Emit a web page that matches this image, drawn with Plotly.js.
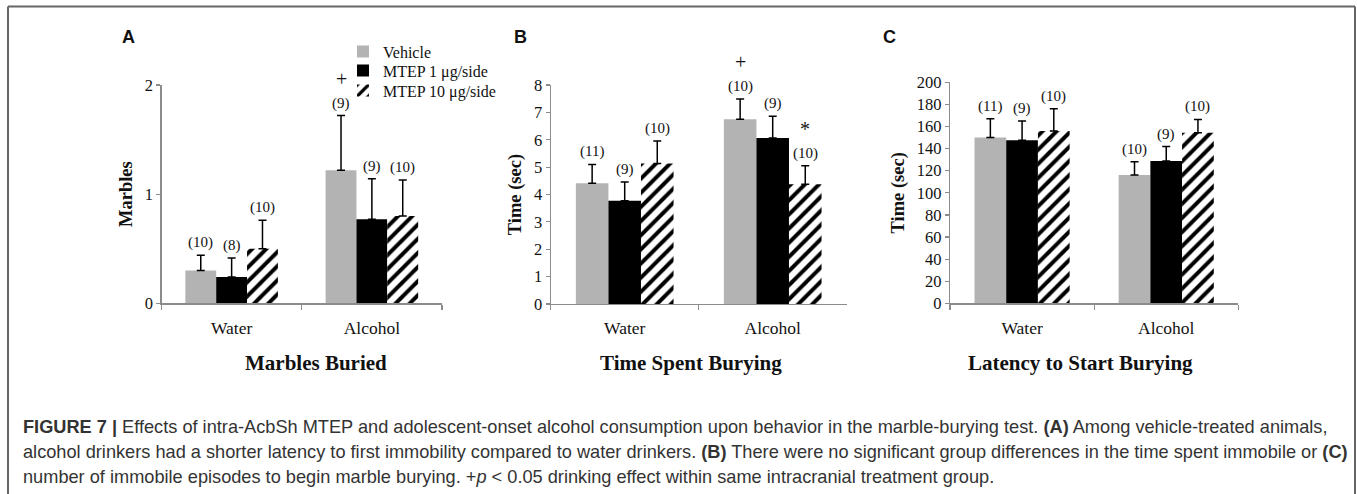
<!DOCTYPE html>
<html>
<head>
<meta charset="utf-8">
<script src="https://cdn.plot.ly/plotly-3.0.1.min.js"></script>
<style>html,body{margin:0;padding:0;background:#fff;} #chart{width:1357px;height:494px;}</style>
</head>
<body>
<div id="chart"></div>
<script>
// ---------- DATA ----------
const categories = ['Water', 'Alcohol'];
const seriesNames = ['Vehicle', 'MTEP 1 μg/side', 'MTEP 10 μg/side'];

// Panel A: Marbles Buried (marbles)
const marblesVehicle = [0.30, 1.22];
const marblesVehicleSem = [0.14, 0.50];
const marblesMtep1 = [0.24, 0.77];
const marblesMtep1Sem = [0.175, 0.37];
const marblesMtep10 = [0.50, 0.80];
const marblesMtep10Sem = [0.26, 0.33];
const marblesN = [[10, 9], [8, 9], [10, 10]];
const marblesSig = [['', '+'], ['', ''], ['', '']];

// Panel B: Time Spent Burying (sec)
const timeVehicle = [4.41, 6.75];
const timeVehicleSem = [0.69, 0.74];
const timeMtep1 = [3.77, 6.06];
const timeMtep1Sem = [0.69, 0.80];
const timeMtep10 = [5.13, 4.37];
const timeMtep10Sem = [0.82, 0.68];
const timeN = [[11, 10], [9, 9], [10, 10]];
const timeSig = [['', '+'], ['', ''], ['', '*']];

// Panel C: Latency to Start Burying (sec)
const latencyVehicle = [150, 116];
const latencyVehicleSem = [17, 12];
const latencyMtep1 = [147.5, 128.8];
const latencyMtep1Sem = [17.5, 13];
const latencyMtep10 = [156, 154.4];
const latencyMtep10Sem = [20, 12];
const latencyN = [[11, 10], [9, 9], [10, 10]];
const latencySig = [['', ''], ['', ''], ['', '']];

const yTitles = ['Marbles', 'Time (sec)', 'Time (sec)'];
const panelTitles = ['Marbles Buried', 'Time Spent Burying', 'Latency to Start Burying'];
const panelLetters = ['A', 'B', 'C'];
const captionLines = [
  '<b>FIGURE 7 |</b> Effects of intra-AcbSh MTEP and adolescent-onset alcohol consumption upon behavior in the marble-burying test. <b>(A)</b> Among vehicle-treated animals,',
  'alcohol drinkers had a shorter latency to first immobility compared to water drinkers. <b>(B)</b> There were no significant group differences in the time spent immobile or <b>(C)</b>',
  'number of immobile episodes to begin marble burying. +<i>p</i> &lt; 0.05 drinking effect within same intracranial treatment group.'
];

// ---------- LAYOUT HELPERS ----------
const W = 1357, H = 494;
const px = x => x / W;
const py = y => 1 - y / H;
const SERIF = 'Liberation Serif, Times New Roman, serif';
const SANS = 'Liberation Sans, Arial, sans-serif';
const BARGAP = 0.34;
const legendRowY = [51.7, 70.5, 90.5];
const legendIds = ['legend', 'legend2', 'legend3'];

const panels = [
  {means: [marblesVehicle, marblesMtep1, marblesMtep10], sems: [marblesVehicleSem, marblesMtep1Sem, marblesMtep10Sem],
   n: marblesN, sig: marblesSig, range: [0, 2], dtick: 1,
   xdom: [161.5, 442], ydom: [303.3, 85], letterX: 128, titleX: 316},
  {means: [timeVehicle, timeMtep1, timeMtep10], sems: [timeVehicleSem, timeMtep1Sem, timeMtep10Sem],
   n: timeN, sig: timeSig, range: [0, 8], dtick: 1,
   xdom: [550.7, 846.7], ydom: [304, 85], letterX: 520, titleX: 691},
  {means: [latencyVehicle, latencyMtep1, latencyMtep10], sems: [latencyVehicleSem, latencyMtep1Sem, latencyMtep10Sem],
   n: latencyN, sig: latencySig, range: [0, 200], dtick: 20,
   xdom: [950, 1238.3], ydom: [303.3, 82.3], letterX: 890, titleX: 1080}
];

const markers = [
  {color: '#b3b3b3'},
  {color: '#000000'},
  {color: '#ffffff', pattern: {shape: '/', fgcolor: '#000000', bgcolor: '#ffffff', size: 10, solidity: 0.4, fillmode: 'replace'}}
];

const traces = [];
const annotations = [];
const layout = {
  width: W, height: H,
  margin: {l: 0, r: 0, t: 0, b: 0},
  paper_bgcolor: '#ffffff', plot_bgcolor: 'rgba(0,0,0,0)',
  barmode: 'group', bargap: BARGAP, bargroupgap: 0,
  showlegend: true,
  shapes: [
    {type: 'line', xref: 'paper', yref: 'paper', x0: px(8), x1: px(1355), y0: py(6.5), y1: py(6.5), line: {color: '#666', width: 2}},
    {type: 'line', xref: 'paper', yref: 'paper', x0: px(8), x1: px(8), y0: py(6.5), y1: 0, line: {color: '#666', width: 2}},
    {type: 'line', xref: 'paper', yref: 'paper', x0: px(1355), x1: px(1355), y0: py(6.5), y1: 0, line: {color: '#666', width: 2}}
  ],
  annotations: annotations,
  font: {family: SERIF, color: '#111'}
};
legendIds.forEach((id, s) => {
  layout[id] = {x: px(343), y: py(legendRowY[s]), xanchor: 'left', yanchor: 'middle', bgcolor: 'rgba(0,0,0,0)',
    font: {family: SERIF, size: 16, color: '#111'}, itemwidth: 30};
});

const w = (1 - BARGAP) / seriesNames.length;

panels.forEach((p, i) => {
  const k = i === 0 ? '' : String(i + 1);
  const xa = 'x' + k, ya = 'y' + k;
  p.means.forEach((m, s) => {
    traces.push({
      type: 'bar', x: categories, y: m, name: seriesNames[s],
      xaxis: xa, yaxis: ya, marker: Object.assign({line: {width: 0}}, markers[s]),
      showlegend: i === 0, legend: legendIds[s],
      error_y: {type: 'data', symmetric: false, array: p.sems[s], arrayminus: m.map(() => 0),
                color: '#000', thickness: 1.5, width: 4},
      hoverinfo: 'skip'
    });
    m.forEach((v, c) => {
      const top = v + p.sems[s][c];
      const xpos = c + (s - 1) * w;
      annotations.push({xref: xa, yref: ya, x: xpos, y: top, text: '(' + p.n[s][c] + ')',
        showarrow: false, yanchor: 'bottom', yshift: 2, font: {family: SERIF, size: 15, color: '#111'}});
      if (p.sig[s][c]) {
        annotations.push({xref: xa, yref: ya, x: xpos, y: top, text: p.sig[s][c],
          showarrow: false, yanchor: 'bottom', yshift: 24, font: {family: SERIF, size: 20, color: '#111'}});
      }
    });
  });
  layout['xaxis' + k] = {
    domain: [px(p.xdom[0]), px(p.xdom[1])], anchor: ya, type: 'category',
    range: [-0.5, 1.5], fixedrange: true,
    showline: true, linecolor: '#8c8c8c', linewidth: 1.2,
    ticks: 'outside', tickson: 'boundaries', ticklen: 5, tickcolor: '#8c8c8c', tickwidth: 1.2,
    ticklabelstandoff: 8,
    tickfont: {family: SERIF, size: 17.5, color: '#111'}, showgrid: false, zeroline: false
  };
  layout['yaxis' + k] = {
    domain: [py(p.ydom[0]), py(p.ydom[1])], anchor: xa, range: p.range, dtick: p.dtick,
    fixedrange: true, showline: true, linecolor: '#8c8c8c', linewidth: 1.2,
    ticks: 'outside', ticklen: 4, tickcolor: '#8c8c8c', tickwidth: 1.2,
    tickfont: {family: SERIF, size: 16.5, color: '#111'}, showgrid: false, zeroline: false,
    title: {text: '<b>' + yTitles[i] + '</b>', font: {family: SERIF, size: 18.5, color: '#111'}, standoff: 7}
  };
  annotations.push({xref: 'paper', yref: 'paper', x: px(p.letterX), y: py(37), text: '<b>' + panelLetters[i] + '</b>',
    showarrow: false, xanchor: 'center', yanchor: 'middle', font: {family: SANS, size: 18, color: '#111'}});
  annotations.push({xref: 'paper', yref: 'paper', x: px(p.titleX), y: py(363), text: '<b>' + panelTitles[i] + '</b>',
    showarrow: false, xanchor: 'center', yanchor: 'middle', font: {family: SERIF, size: 21, color: '#111'}});
});

captionLines.forEach((t, j) => {
  annotations.push({xref: 'paper', yref: 'paper', x: px(21), y: py(427 + j * 25), text: t,
    showarrow: false, xanchor: 'left', yanchor: 'middle', align: 'left',
    font: {family: SANS, size: 18.2, color: '#333'}});
});

Plotly.newPlot('chart', traces, layout, {displayModeBar: false, staticPlot: true});
</script>
</body>
</html>
